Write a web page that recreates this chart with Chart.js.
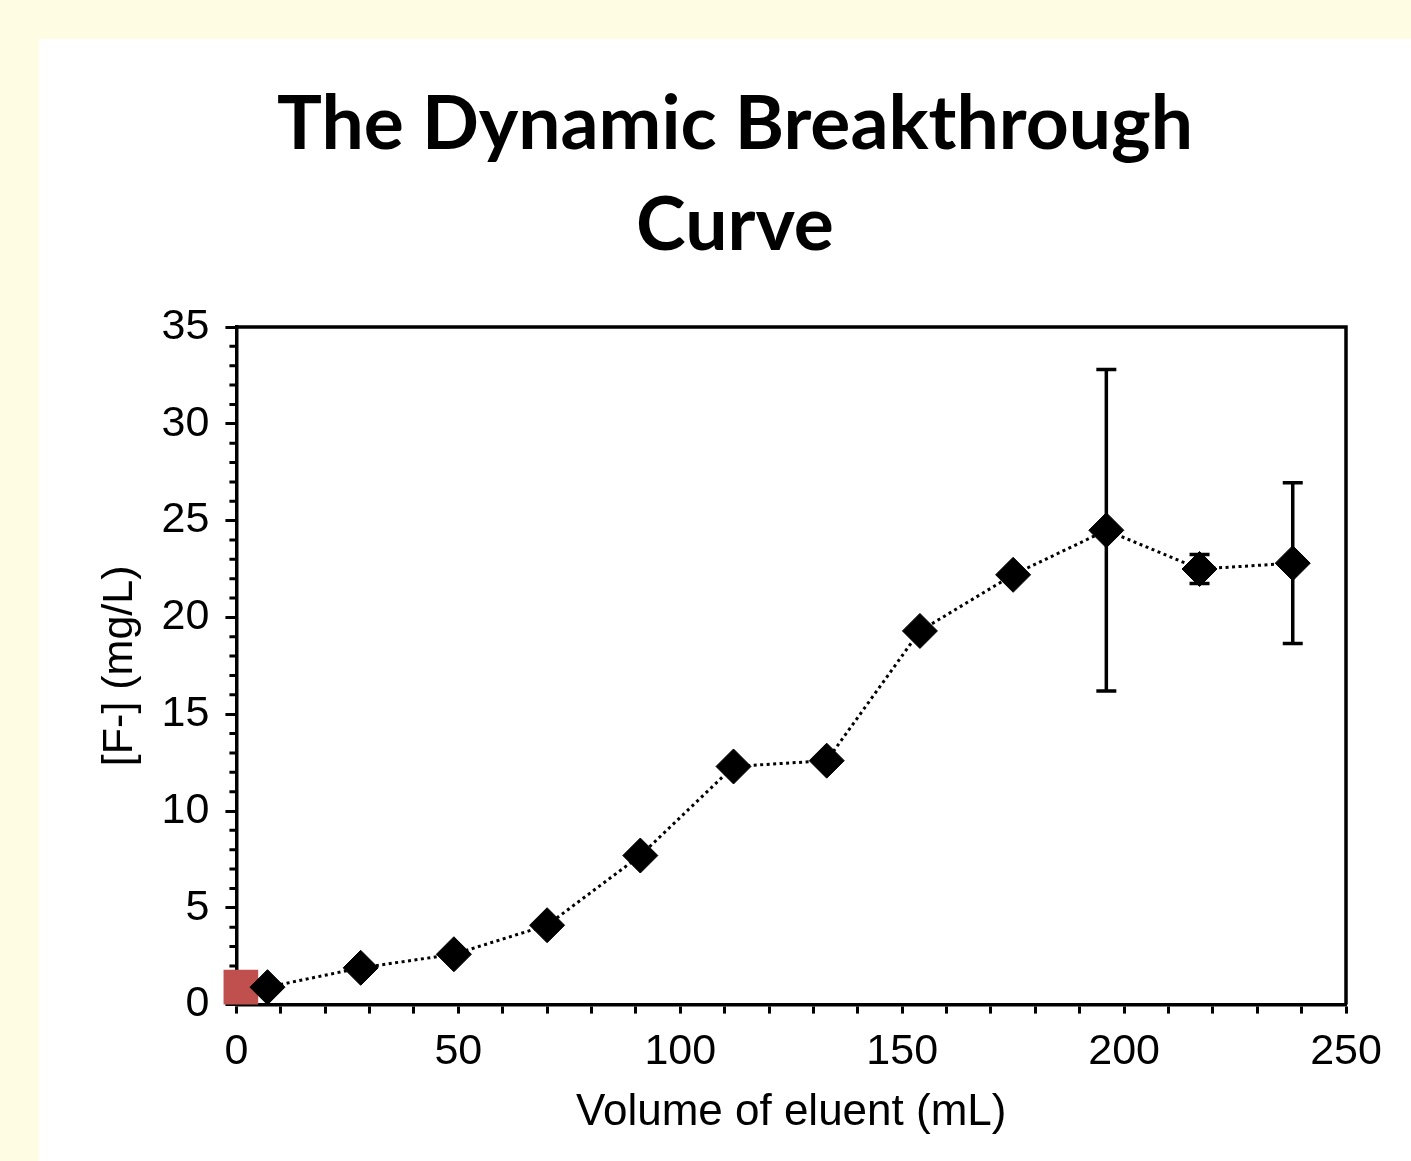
<!DOCTYPE html>
<html>
<head>
<meta charset="utf-8">
<script src="https://cdn.jsdelivr.net/npm/chart.js@4.4.1/dist/chart.umd.min.js"></script>
<style>
  html, body { margin: 0; padding: 0; background: #fefce3; overflow: hidden; }
  #panel { position: absolute; left: 39px; top: 39px; width: 1372px; height: 1122px; background: #fff; }
</style>
</head>
<body>
<div id="panel"><canvas id="breakthroughChart" width="1372" height="1122"></canvas></div>
<script>
// Volume of eluent (mL) and measured fluoride (mg/L)
const volumes = [7, 28, 49, 70, 91, 112, 133, 154, 175, 196, 217, 238];
const fluoride = [0.9, 1.9, 2.6, 4.1, 7.7, 12.3, 12.6, 19.3, 22.2, 24.5, 22.5, 22.8];
const fluorideErr = [0, 0, 0, 0, 0, 0, 0, 0, 0, 8.3, 0.75, 4.15];
// starting point (feed)
const startVolume = [1];
const startFluoride = [0.9];

const axisFont = 'Liberation Sans, Arial, Helvetica, sans-serif';
const titleCentre = 696; // canvas x where the chart title sits

// error bars drawn from the scales
const errorBars = {
    id: 'errorBars',
    afterDatasetsDraw(chart) {
        const ctx = chart.ctx;
        const xs = chart.scales.x, ys = chart.scales.y;
        ctx.save();
        ctx.strokeStyle = '#000';
        ctx.lineWidth = 3.5;
        volumes.forEach((v, i) => {
            const e = fluorideErr[i];
            if (!e) return;
            const px = xs.getPixelForValue(v);
            const top = ys.getPixelForValue(fluoride[i] + e);
            const bot = ys.getPixelForValue(fluoride[i] - e);
            ctx.beginPath();
            ctx.moveTo(px, top); ctx.lineTo(px, bot);
            ctx.moveTo(px - 10, top); ctx.lineTo(px + 10, top);
            ctx.moveTo(px - 10, bot); ctx.lineTo(px + 10, bot);
            ctx.stroke();
        });
        ctx.restore();
    }
};

// box round the plot plus the small y ticks
const frame = {
    id: 'frame',
    afterLayout(chart) {
        // title is centred on the whole panel, not the padded area
        const t = chart.titleBlock;
        const w = t.right - t.left;
        t.left = titleCentre - w / 2;
        t.right = titleCentre + w / 2;
    },
    beforeDatasetsDraw(chart) {
        const { ctx, chartArea: a } = chart;
        const ys = chart.scales.y;
        ctx.save();
        ctx.strokeStyle = '#000';
        ctx.lineWidth = 3.5;
        ctx.beginPath();
        ctx.moveTo(a.left, a.top); ctx.lineTo(a.right, a.top); ctx.lineTo(a.right, a.bottom);
        ctx.stroke();
        ctx.lineWidth = 3;
        ctx.beginPath();
        for (let v = 1; v < 35; v++) {
            if (v % 5 === 0) continue;
            const py = ys.getPixelForValue(v);
            ctx.moveTo(a.left - 7, py); ctx.lineTo(a.left, py);
        }
        ctx.stroke();
        ctx.restore();
    }
};

new Chart(document.getElementById('breakthroughChart'), {
    type: 'scatter',
    data: {
        datasets: [
            {
                label: 'Fluoride',
                data: volumes.map((v, i) => ({ x: v, y: fluoride[i] })),
                showLine: true,
                borderColor: '#000',
                borderWidth: 3,
                borderDash: [3, 3.5],
                pointStyle: 'rectRot',
                pointRadius: 17.5,
                pointBackgroundColor: '#000',
                pointBorderColor: '#000',
                pointBorderWidth: 1,
                order: 1
            },
            {
                label: 'Start',
                data: startVolume.map((v, i) => ({ x: v, y: startFluoride[i] })),
                pointStyle: 'rect',
                pointRadius: 24.5,
                pointBackgroundColor: '#c0504d',
                pointBorderWidth: 0,
                clip: false,
                order: 2
            }
        ]
    },
    options: {
        responsive: false,
        animation: false,
        layout: { padding: { left: 55, right: 65, top: 0, bottom: 22 } },
        plugins: {
            legend: { display: false },
            tooltip: { enabled: false },
            title: {
                display: true,
                text: ['The Dynamic Breakthrough', 'Curve'],
                color: '#000',
                font: { family: 'Lato, Open Sans, sans-serif', size: 75, weight: 'bold', lineHeight: 1.34 },
                padding: { top: 36, bottom: 51 }
            }
        },
        scales: {
            x: {
                type: 'linear',
                min: 0,
                max: 250,
                border: { display: true, color: '#000', width: 3.5 },
                grid: { drawOnChartArea: false, drawTicks: true, tickLength: 9, tickWidth: 3, tickColor: '#000' },
                ticks: {
                    stepSize: 10,
                    autoSkip: false,
                    maxRotation: 0,
                    color: '#000',
                    padding: 13,
                    font: { family: axisFont, size: 43 },
                    callback: v => (v % 50 === 0 ? v : '')
                },
                title: {
                    display: true,
                    text: 'Volume of eluent (mL)',
                    color: '#000',
                    font: { family: axisFont, size: 44 },
                    padding: { top: -5, bottom: 0 }
                }
            },
            y: {
                min: 0,
                max: 35,
                border: { display: true, color: '#000', width: 3.5 },
                grid: { drawOnChartArea: false, drawTicks: true, tickLength: 11, tickWidth: 3, tickColor: '#000' },
                ticks: {
                    stepSize: 5,
                    color: '#000',
                    padding: 16,
                    font: { family: axisFont, size: 43 }
                },
                title: {
                    display: true,
                    text: '[F-] (mg/L)',
                    color: '#000',
                    font: { family: axisFont, size: 43 },
                    padding: { top: 0, bottom: 0 }
                }
            }
        }
    },
    plugins: [frame, errorBars]
});
</script>
</body>
</html>
